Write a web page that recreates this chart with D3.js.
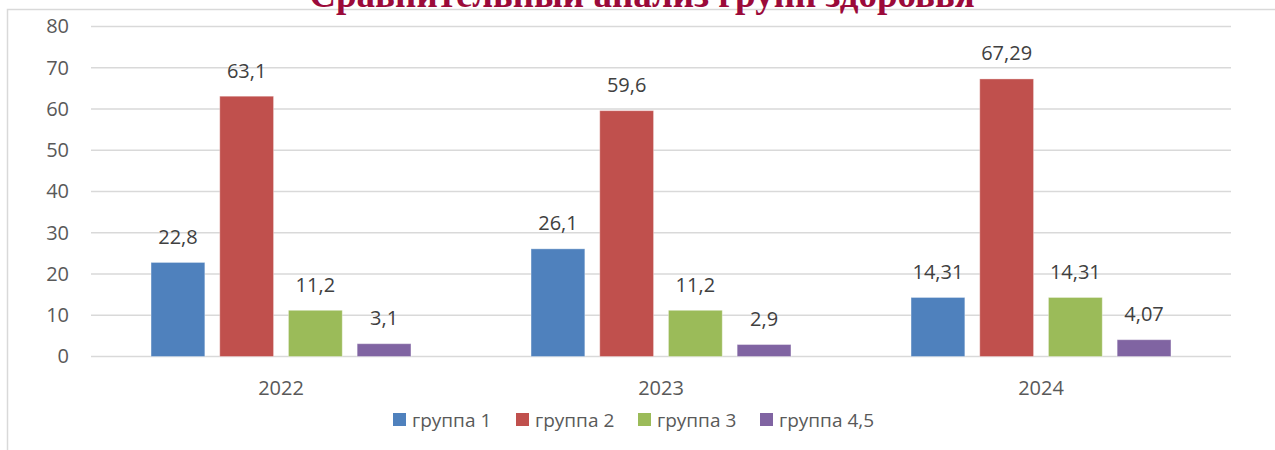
<!DOCTYPE html>
<html>
<head>
<meta charset="utf-8">
<script src="https://cdn.jsdelivr.net/npm/d3@7"></script>
<style>
  body { margin: 0; background: #fff; }
  text { font-family: "Open Sans", "Noto Sans", sans-serif; }
</style>
</head>
<body>
<svg id="fig" width="1275" height="450"></svg>
<script>
var years = ["2022", "2023", "2024"];
var groups = ["группа 1", "группа 2", "группа 3", "группа 4,5"];
var group1 = [22.8, 26.1, 14.31];
var group2 = [63.1, 59.6, 67.29];
var group3 = [11.2, 11.2, 14.31];
var group45 = [3.1, 2.9, 4.07];
var yTicks = [0, 10, 20, 30, 40, 50, 60, 70, 80];
var title = "Сравнительный анализ групп здоровья";

var series = [group1, group2, group3, group45];
var colors = ["#4f81bd", "#c0504d", "#9bbb59", "#8064a2"];

var svg = d3.select("#fig");

// chart frame (only top and left edges fall inside the page)
svg.append("rect")
   .attr("x", 7.5).attr("y", 9.5)
   .attr("width", 1300).attr("height", 500)
   .attr("fill", "none")
   .attr("stroke", "#d9d9d9")
   .attr("stroke-width", 1.5);

// title, cut off by the top of the page like in the original
svg.append("text")
   .attr("x", 642).attr("y", 7)
   .attr("text-anchor", "middle")
   .style("font-family", "'Liberation Serif', 'DejaVu Serif', serif")
   .style("font-weight", "bold")
   .style("font-size", "37px")
   .attr("fill", "#9b0a3a")
   .text(title);

var left = 91, right = 1231;
var y = d3.scaleLinear().domain([0, 80]).range([356.5, 26.5]);
var x0 = d3.scaleBand().domain(years).range([left, right])
           .paddingInner(0.316).paddingOuter(0.158);
var x1 = d3.scaleBand().domain(d3.range(groups.length))
           .range([0, x0.bandwidth()]).paddingInner(0.217);

// gridlines
svg.append("g").selectAll("line").data(yTicks).enter()
   .append("line")
   .attr("x1", left).attr("x2", right)
   .attr("y1", d => y(d)).attr("y2", d => y(d))
   .attr("stroke", "#d9d9d9")
   .attr("stroke-width", 1.3);

// y axis labels
var yAxis = svg.append("g")
   .attr("transform", "translate(69,0)")
   .call(d3.axisLeft(y).tickValues(yTicks).tickSize(0).tickPadding(0));
yAxis.select(".domain").remove();
yAxis.selectAll("text")
   .style("font-family", "'Open Sans', 'Noto Sans', sans-serif")
   .style("font-size", "20px")
   .attr("fill", "#595959");

// x axis labels
var xAxis = svg.append("g")
   .attr("transform", "translate(0," + y(0) + ")")
   .call(d3.axisBottom(x0).tickSize(0).tickPadding(24));
xAxis.select(".domain").remove();
xAxis.selectAll("text")
   .style("font-family", "'Open Sans', 'Noto Sans', sans-serif")
   .style("font-size", "20px")
   .attr("fill", "#595959");

// bars
var fmt = v => String(v).replace(".", ",");
var yearG = svg.append("g").selectAll("g").data(years).enter()
   .append("g")
   .attr("transform", d => "translate(" + x0(d) + ",0)");

yearG.selectAll("rect")
   .data((d, i) => series.map((s, k) => ({k: k, v: s[i]})))
   .enter().append("rect")
   .attr("x", d => x1(d.k))
   .attr("width", x1.bandwidth())
   .attr("y", d => y(d.v))
   .attr("height", d => y(0) - y(d.v))
   .attr("fill", d => colors[d.k])
   .attr("stroke", "#ffffff")
   .attr("stroke-opacity", 0.35)
   .attr("stroke-width", 1);

yearG.selectAll("text.lbl")
   .data((d, i) => series.map((s, k) => ({k: k, v: s[i]})))
   .enter().append("text")
   .attr("class", "lbl")
   .attr("x", d => x1(d.k) + x1.bandwidth() / 2)
   .attr("y", d => y(d.v) - 18.5)
   .attr("text-anchor", "middle")
   .style("font-size", "20px")
   .attr("fill", "#404040")
   .text(d => fmt(d.v));

// legend
var legendX = [393, 516, 638, 760];
var leg = svg.append("g").selectAll("g").data(groups).enter()
   .append("g")
   .attr("transform", (d, i) => "translate(" + legendX[i] + ",413)");
leg.append("rect")
   .attr("width", 13).attr("height", 13)
   .attr("fill", (d, i) => colors[i]);
leg.append("text")
   .attr("x", 19).attr("y", 13.5)
   .style("font-size", "19px")
   .attr("fill", "#595959")
   .text(d => d);
</script>
</body>
</html>
